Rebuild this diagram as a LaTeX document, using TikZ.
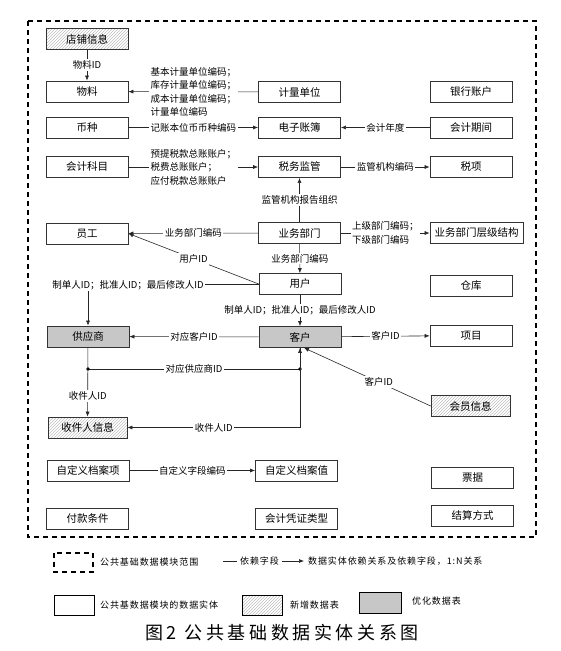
\documentclass[tikz,border=0pt]{standalone}
\usepackage{fontspec}
\setmainfont{Noto Sans CJK SC}
\newfontfamily\capfont[LetterSpace=20]{Noto Sans CJK SC}
\newfontfamily\legfont[LetterSpace=10]{Noto Sans CJK SC}
\usetikzlibrary{calc,positioning,arrows.meta,patterns}

\tikzset{
  ent/.style={rectangle,draw=black!80,line width=.7pt,minimum width=82pt,minimum height=21pt,inner sep=1pt,font=\fontsize{10.5}{12}\selectfont},
  newent/.style={ent,pattern=north east lines,pattern color=black!25},
  optent/.style={ent,fill=black!22},
  dep/.style={draw=black!85,line width=.6pt,-{Latex[length=5pt,width=4pt]}},
  plain/.style={draw=black!85,line width=.6pt},
  lbl/.style={fill=white,inner sep=1.5pt,font=\fontsize{9.5}{13.5}\selectfont},
  leg/.style={anchor=west,inner sep=0pt,font=\fontsize{9}{11}\legfont},
}

\begin{document}
\begin{tikzpicture}[x=1pt,y=-1pt]
  \useasboundingbox (0,0) rectangle (560,651);

  % module frame
  \draw[line width=1.6pt,dash pattern=on 5pt off 4pt] (28,21) rectangle (536,537);

  % entities
  \node (dianpu) [newent] at(87,39) {店铺信息};
  \node (wuliao) [ent] at(87,91.5) {物料};
  \node (jiliang) [ent] at(299.5,92) {计量单位};
  \node (yinhang) [ent] at(471,92) {银行账户};
  \node (bizhong) [ent] at(87,127.5) {币种};
  \node (dianzi) [ent] at(299.5,127.5) {电子账簿};
  \node (qijian) [ent] at(471,127.5) {会计期间};
  \node (kemu) [ent] at(87,167) {会计科目};
  \node (shuiwu) [ent] at(299.5,167) {税务监管};
  \node (shuixiang) [ent] at(471,167) {税项};
  \node (yuangong) [ent] at(87,233.5) {员工};
  \node (bumen) [ent] at(299.5,233) {业务部门};
  \node (cengji) [ent,minimum width=93pt] at(476.5,233) {业务部门层级结构};
  \node (yonghu) [ent] at(300,284) {用户};
  \node (cangku) [ent] at(471,285.5) {仓库};
  \node (gongying) [optent] at(88,336.5) {供应商};
  \node (kehu) [optent] at(300,337) {客户};
  \node (xiangmu) [ent] at(471,335.5) {项目};
  \node (shoujian) [newent,minimum width=79pt] at(87.5,427.5) {收件人信息};
  \node (huiyuan) [newent,minimum width=79pt] at(470.5,406) {会员信息};
  \node (dingyixiang) [ent] at(88,470.5) {自定义档案项};
  \node (dingyizhi) [ent] at(296.5,470.5) {自定义档案值};
  \node (piaoju) [ent] at(472.5,477.5) {票据};
  \node (fukuan) [ent] at(87.5,518.5) {付款条件};
  \node (pingzheng) [ent] at(296.5,518.5) {会计凭证类型};
  \node (jiesuan) [ent] at(472.5,515.5) {结算方式};

  % dependencies
  \draw[dep] (dianpu) -- node[lbl] {物料ID} (wuliao);
  \draw[dep] (jiliang) -- node[lbl,align=left] {基本计量单位编码；\\库存计量单位编码；\\成本计量单位编码；\\计量单位编码} (wuliao);
  \draw[dep] (bizhong) -- node[lbl] {记账本位币币种编码} (dianzi);
  \draw[dep] (qijian) -- node[lbl] {会计年度} (dianzi);
  \draw[dep] (kemu) -- node[lbl,align=left] {预提税款总账账户；\\税费总账账户；\\应付税款总账账户} (shuiwu);
  \draw[dep] (shuiwu) -- node[lbl] {监管机构编码} (shuixiang);
  \draw[dep] (bumen) -- node[lbl] {监管机构报告组织} (shuiwu);
  \draw[dep] (bumen) -- node[lbl] {业务部门编码} (yuangong);
  \draw[dep] (bumen) -- node[lbl,align=left] {上级部门编码；\\下级部门编码} (cengji);
  \draw[dep] (bumen) -- node[lbl] {业务部门编码} (yonghu);
  \draw[dep] (yonghu.west) -- node[lbl] {用户ID} (yuangong.east);

  \coordinate (c_zhidan) at (gongying.north |- yonghu.west);
  \draw[dep] (yonghu.west) -- (c_zhidan) -- (gongying.north);
  \node (lbl_zhidan) [lbl] at(128,285) {制单人ID；批准人ID；最后修改人ID};

  \draw[dep] (yonghu) -- node[lbl] {制单人ID；批准人ID；最后修改人ID} (kehu);
  \draw[dep] (kehu) -- node[lbl] {对应客户ID} (gongying);
  \draw[dep] (kehu) -- node[lbl] {客户ID} (xiangmu);

  \coordinate (dot_l) at (gongying.south |- 0,369);
  \coordinate (dot_r) at (kehu.south |- 0,369);
  \draw[dep] (dot_l) -- node[lbl] {对应供应商ID} (dot_r) -- (kehu.south);
  \fill (dot_l) circle (1.8pt) (dot_r) circle (1.8pt);
  \draw[dep] (gongying) -- node[lbl,pos=.7] {收件人ID} (shoujian);

  \coordinate (c_shoujian) at (kehu.south |- shoujian.east);
  \draw[dep] (kehu.south) -- (c_shoujian) -- node[lbl] {收件人ID} (shoujian.east);
  \draw[dep] (huiyuan.west) -- node[lbl,pos=.41] {客户ID} ($(kehu.south)+(4,0)$);

  \draw[dep] (dingyixiang) -- node[lbl] {自定义字段编码} (dingyizhi);

  % legend
  \draw[line width=1.4pt,dash pattern=on 5pt off 4pt] (54,553) rectangle (93,572);
  \node (lg_range) [leg] at(100,562) {公共基础数据模块范围};
  \coordinate (lg_line) at (223,561);
  \node (lg_field) [leg] at(240,561) {依赖字段};
  \node (lg_rel) [leg] at(308,561) {数据实体依赖关系及依赖字段，1:N关系};
  \draw[plain] (lg_line) -- ($(lg_field.west)+(-3,0)$);
  \draw[dep] ($(lg_field.east)+(3,0)$) -- ($(lg_rel.west)+(-4,0)$);

  \draw[line width=.7pt] (54,595) rectangle (94,615);
  \node (lg_ent) [leg] at(100,605) {公共基数据模块的数据实体};
  \draw[line width=.7pt,pattern=north east lines,pattern color=black!25] (242,595) rectangle (282,615);
  \node (lg_new) [leg] at(290,605) {新增数据表};
  \draw[line width=.7pt,fill=black!22] (359,592) rectangle (401,613);
  \node (lg_opt) [leg] at(412,601) {优化数据表};

  \node (caption) [font=\fontsize{18}{20}\capfont] at(282,633) {图2 公共基础数据实体关系图};

\end{tikzpicture}
\end{document}
